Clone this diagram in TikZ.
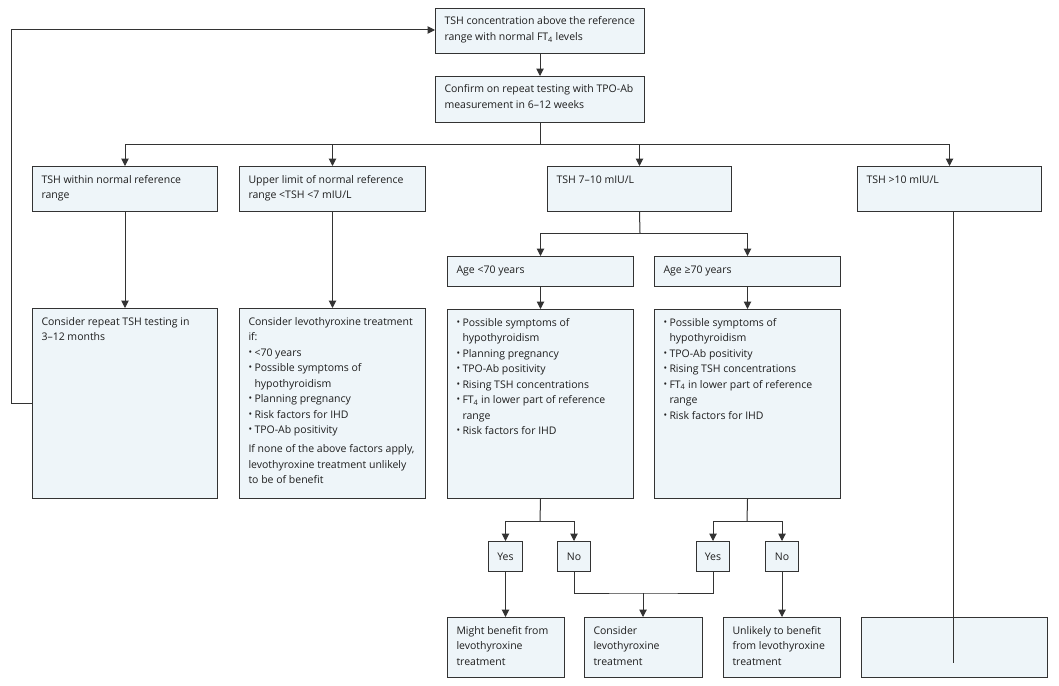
\documentclass[tikz,border=0pt]{standalone}
\usepackage{fontspec}
\setmainfont{Open Sans}
\usetikzlibrary{arrows.meta}
\definecolor{boxfill}{HTML}{EEF5F9}
\definecolor{linec}{HTML}{333333}
\definecolor{textc}{HTML}{1E1E1E}
\newcommand\bul{\par\hangindent=6pt\hangafter=1\noindent\makebox[6pt][l]{\raisebox{0.05em}{\scalebox{0.9}{•}}}}
\newcommand\bx[6]{\node[box,minimum width=#4pt,minimum height=#5pt] (#1) at (#2,#3) {\begin{minipage}[t][#5pt][t]{#4pt}\everypar{\rule{0pt}{11pt}}\leftskip=9pt\rightskip=-20pt plus 1fil\parindent=0pt\vspace{5.5pt}#6\end{minipage}};}
\newcommand\sm[5]{\node[box,minimum width=#4pt,minimum height=30pt,anchor=north west] (#1) at (#2,#3) {#5};}
\tikzset{
  box/.style={draw=linec, fill=boxfill, line width=1pt, anchor=north west, inner sep=0pt, text=textc,
    font=\fontsize{10.5pt}{15.5pt}\selectfont},
  arr/.style={draw=linec, line width=1pt, -{Triangle[width=7.5pt,length=7.5pt]}},
  ln/.style={draw=linec, line width=1pt}
}
\begin{document}
\begin{tikzpicture}[x=1pt,y=-1pt]
\useasboundingbox[fill=white] (0,0) rectangle (1059,685);
\bx{top}{435}{8}{209}{45}{TSH concentration above the reference\newline range with normal FT\textsubscript{4} levels}
\bx{conf}{435}{76}{209}{46}{Confirm on repeat testing with TPO-Ab\newline measurement in 6–12 weeks}
\bx{A}{32}{166}{185}{45}{TSH within normal reference\newline range}
\bx{B}{239}{166}{186}{45}{Upper limit of normal reference\newline range <TSH <7 mIU/L}
\bx{C}{547}{166}{184}{45}{TSH 7–10 mIU/L}
\bx{D}{857}{166}{184}{45}{TSH >10 mIU/L}
\bx{A2}{32}{308}{185}{190}{Consider repeat TSH testing in\newline 3–12 months}
\bx{B2}{239}{308}{186}{190}{Consider levothyroxine treatment\newline if:
\bul <70 years
\bul Possible symptoms of\newline hypothyroidism
\bul Planning pregnancy
\bul Risk factors for IHD
\bul TPO-Ab positivity
\par\vspace{3.5pt}If none of the above factors apply,\newline levothyroxine treatment unlikely\newline to be of benefit}
\bx{age1}{447}{256}{186}{30}{Age <70 years}
\bx{age2}{654}{256}{186}{30}{Age ≥70 years}
\bx{det1}{447}{309}{186}{189}{\bul Possible symptoms of\newline hypothyroidism
\bul Planning pregnancy
\bul TPO-Ab positivity
\bul Rising TSH concentrations
\bul FT\textsubscript{4} in lower part of reference\newline range
\bul Risk factors for IHD}
\bx{det2}{654}{309}{186}{189}{\bul Possible symptoms of\newline hypothyroidism
\bul TPO-Ab positivity
\bul Rising TSH concentrations
\bul FT\textsubscript{4} in lower part of reference\newline range
\bul Risk factors for IHD}
\sm{yes1}{488}{541}{34}{Yes}
\sm{no1}{557}{541}{33}{No}
\sm{yes2}{696}{541}{33}{Yes}
\sm{no2}{765}{541}{33}{No}
\bx{r1}{447}{617}{117}{60}{Might benefit from\newline levothyroxine\newline treatment}
\bx{r2}{584}{617}{118}{60}{Consider\newline levothyroxine\newline treatment}
\bx{r3}{723}{617}{117}{60}{Unlikely to benefit\newline from levothyroxine\newline treatment}
\bx{r4}{861}{617}{186}{60}{}
% connectors
\draw[arr] (top.south) -- (conf.north);
\coordinate (b1) at (540,144);
\draw[ln] (conf.south) -- (b1);
\draw[ln] (b1 -| A.north) -- (b1 -| D.north);
\foreach \n in {A,B,C,D} \draw[arr] (b1 -| \n.north) -- (\n.north);
\draw[arr] (A.south) -- (A2.north);
\draw[arr] (B.south) -- (B2.north);
\coordinate (b2) at (640,233);
\draw[ln] (C.south) -- (b2);
\draw[ln] (b2 -| age1.north) -- (b2 -| age2.north);
\draw[arr] (b2 -| age1.north) -- (age1.north);
\draw[arr] (b2 -| age2.north) -- (age2.north);
\draw[arr] (age1.south) -- (det1.north);
\draw[arr] (age2.south) -- (det2.north);
\coordinate (b3) at (540,521);
\draw[ln] (det1.south) -- (b3);
\draw[ln] (b3 -| yes1.north) -- (b3 -| no1.north);
\draw[arr] (b3 -| yes1.north) -- (yes1.north);
\draw[arr] (b3 -| no1.north) -- (no1.north);
\coordinate (b4) at (747,521);
\draw[ln] (det2.south) -- (b4);
\draw[ln] (b4 -| yes2.north) -- (b4 -| no2.north);
\draw[arr] (b4 -| yes2.north) -- (yes2.north);
\draw[arr] (b4 -| no2.north) -- (no2.north);
\draw[arr] (yes1.south) -- (r1.north -| yes1.south);
\draw[arr] (no2.south) -- (r3.north -| no2.south);
\coordinate (b5) at (643,593);
\draw[ln] (no1.south) |- (b5) -| (yes2.south);
\draw[arr] (b5) -- (b5 |- r2.north);
\coordinate (dend) at (953,663);
\draw[ln] (D.south -| dend) -- (dend);
\draw[arr] (A2.west |- 0,403) -- (11,403) -- (11,30) -- (top.west |- 0,30);
\end{tikzpicture}
\end{document}
